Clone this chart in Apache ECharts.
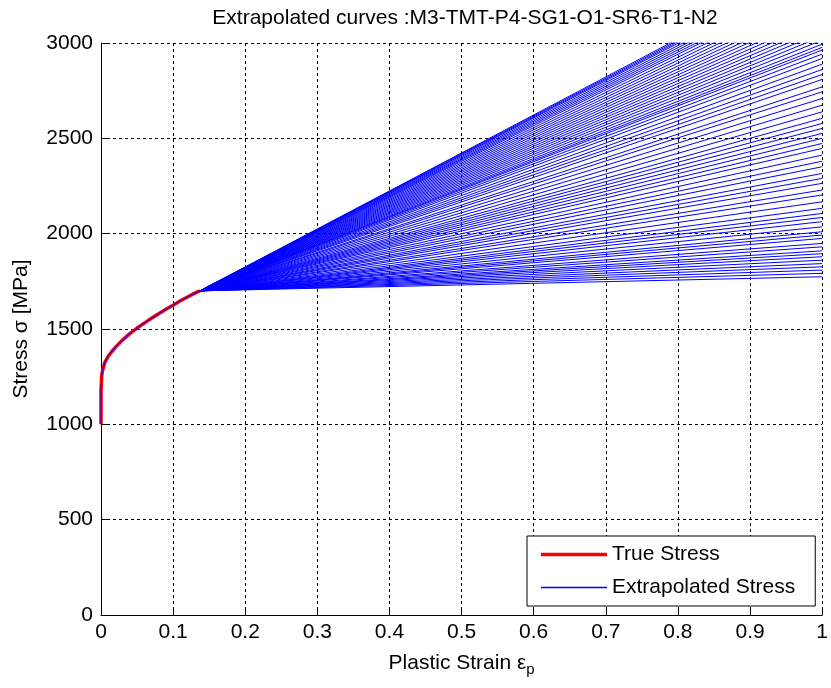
<!DOCTYPE html>
<html>
<head>
<meta charset="utf-8">
<script src="https://cdn.jsdelivr.net/npm/echarts@6/dist/echarts.min.js"></script>
<style>html,body{margin:0;padding:0;background:#fff}#c{width:831px;height:688px}</style>
</head>
<body>
<div id="c"></div>
<script>
// ---- data ----
const titleText = 'Extrapolated curves :M3-TMT-P4-SG1-O1-SR6-T1-N2';
const trueStrain = [0, 0, 0.001, 0.002, 0.005, 0.01, 0.015, 0.02, 0.03, 0.04, 0.05, 0.06, 0.07, 0.08, 0.09, 0.10, 0.11, 0.12, 0.13, 0.137];
const trueStress = [1000, 1180, 1255, 1280, 1322, 1357, 1382, 1404, 1443, 1476, 1505, 1531, 1556, 1580, 1603, 1625, 1648, 1668, 1688, 1700];
// stress of each extrapolated curve at strain = 1 (values above 3000 are clipped by the axis)
const extrapEndStrain = 1;
const extrapEndStress = [1774, 1792, 1809, 1826, 1843, 1861, 1879, 1895, 1910, 1931, 1949, 1975, 1993, 2010, 2036, 2063, 2085, 2106, 2133, 2167, 2203, 2229, 2264, 2290, 2316, 2351, 2380, 2412, 2447, 2473, 2500, 2526, 2552, 2578, 2605, 2639, 2674, 2709, 2744, 2770, 2809, 2835, 2861, 2889, 2919, 2942, 2963, 2977, 2994,
  3015, 3035, 3055, 3075, 3095, 3115, 3135, 3155, 3175, 3195, 3215, 3235, 3255, 3275, 3295, 3315, 3330, 3345, 3360, 3375, 3390, 3400, 3410, 3420];
const xTickLabels = ['0', '0.1', '0.2', '0.3', '0.4', '0.5', '0.6', '0.7', '0.8', '0.9', '1'];
const yTickLabels = ['0', '500', '1000', '1500', '2000', '2500', '3000'];

const FONT = "'Liberation Sans', Arial, sans-serif";
const RED = '#ff0000', BLUE = '#0000ff';

const truePts = trueStrain.map((x, i) => [x, trueStress[i]]);
const startX = trueStrain[trueStrain.length - 1];
const startY = trueStress[trueStress.length - 1];

const series = [{
  name: 'True Stress', type: 'line', data: truePts, symbol: 'none', z: 2,
  lineStyle: { color: RED, width: 3.5 }, itemStyle: { color: RED }
}, {
  name: 'Extrapolated Stress', type: 'line', data: truePts, symbol: 'none', z: 3,
  lineStyle: { color: BLUE, width: 1 }, itemStyle: { color: BLUE }
}];
extrapEndStress.forEach(v => {
  series.push({
    name: 'Extrapolated Stress', type: 'line', symbol: 'none', z: 3, clip: true,
    data: [[startX, startY], [extrapEndStrain, v]],
    lineStyle: { color: BLUE, width: 1 }, itemStyle: { color: BLUE }
  });
});

const chart = echarts.init(document.getElementById('c'), null, { renderer: 'canvas' });
chart.setOption({
  animation: false,
  backgroundColor: '#fff',
  title: {
    text: titleText, left: 460, top: 3, textAlign: 'center',
    textStyle: { fontFamily: FONT, fontSize: 21, fontWeight: 'normal', color: '#000' }
  },
  grid: { left: 101, right: 5, top: 43, bottom: 73, containLabel: false },
  legend: {
    data: [
      { name: 'True Stress', icon: 'path://M0,0h66v3.5h-66z', itemStyle: { color: RED, borderWidth: 0 } },
      { name: 'Extrapolated Stress', icon: 'path://M0,0h66v1.3h-66z', itemStyle: { color: BLUE, borderWidth: 0 } }
    ],
    orient: 'vertical', left: 527, top: 536,
    padding: [8, 20, 8, 14], itemGap: 12, itemWidth: 66, itemHeight: 20,
    borderColor: '#000', borderWidth: 1, backgroundColor: '#fff',
    textStyle: { fontFamily: FONT, fontSize: 21, color: '#000' }
  },
  xAxis: {
    type: 'value', min: 0, max: 1, interval: 0.1,
    name: '{a|Plastic Strain ε}{s|p}', nameLocation: 'middle', nameGap: 34,
    nameTextStyle: { rich: {
      a: { fontFamily: FONT, fontSize: 21, color: '#000' },
      s: { fontFamily: FONT, fontSize: 15, color: '#000', padding: [13, 0, 0, 0] }
    } },
    axisLine: { show: true, lineStyle: { color: '#000', width: 1 } },
    axisTick: { show: true, inside: true, length: 6, lineStyle: { color: '#000' } },
    axisLabel: { fontFamily: FONT, fontSize: 21, color: '#000', margin: 7,
      formatter: v => xTickLabels[Math.round(v * 10)] },
    splitLine: { show: true, lineStyle: { color: '#000', type: [3, 3], width: 1 } }
  },
  yAxis: {
    type: 'value', min: 0, max: 3000, interval: 500,
    name: 'Stress σ [MPa]', nameLocation: 'middle', nameGap: 69, nameRotate: 90,
    nameTextStyle: { fontFamily: FONT, fontSize: 21, color: '#000' },
    axisLine: { show: true, lineStyle: { color: '#000', width: 1 } },
    axisTick: { show: true, inside: true, length: 6, lineStyle: { color: '#000' } },
    axisLabel: { fontFamily: FONT, fontSize: 21, color: '#000', margin: 8,
      formatter: v => yTickLabels[Math.round(v / 500)] },
    splitLine: { show: true, lineStyle: { color: '#000', type: [3, 3], width: 1 } }
  },
  series: series
});
</script>
</body>
</html>
